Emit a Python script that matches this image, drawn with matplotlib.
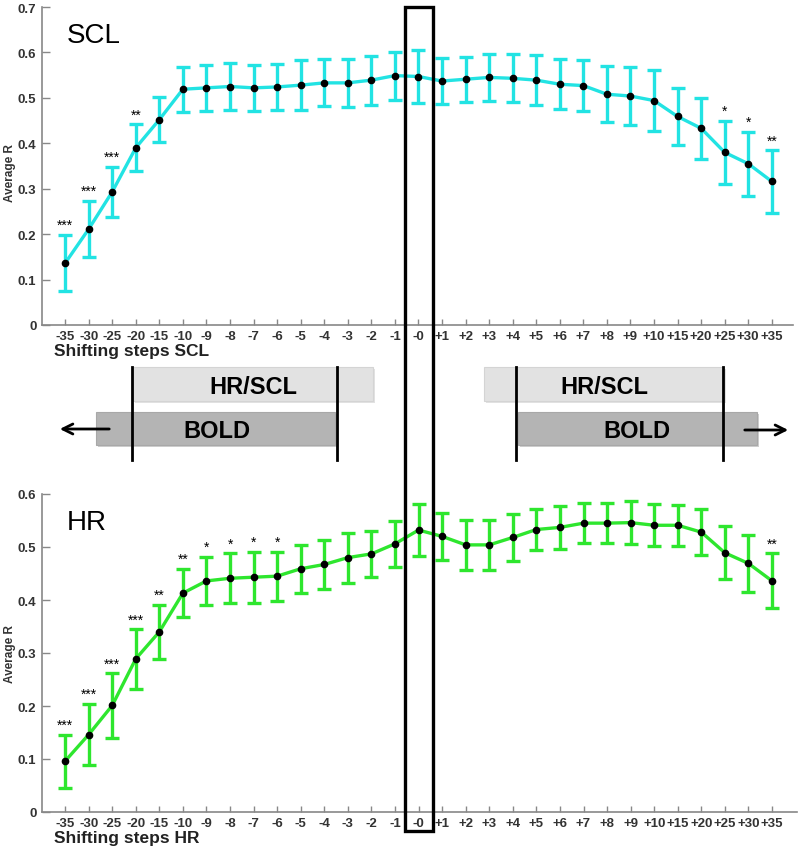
import numpy as np
import matplotlib.pyplot as plt
from matplotlib.patches import Rectangle

plt.rcParams['font.family'] = ['Liberation Sans', 'DejaVu Sans']

# shift steps shown on the x axis
steps = ['-35', '-30', '-25', '-20', '-15', '-10', '-9', '-8', '-7', '-6', '-5', '-4', '-3', '-2', '-1', '-0',
         '+1', '+2', '+3', '+4', '+5', '+6', '+7', '+8', '+9', '+10', '+15', '+20', '+25', '+30', '+35']

# SCL: average R and error bars
scl_mean = [0.136, 0.211, 0.293, 0.390, 0.452, 0.519, 0.522, 0.525, 0.522, 0.524, 0.528, 0.533, 0.533, 0.539, 0.549,
            0.547, 0.537, 0.541, 0.545, 0.543, 0.539, 0.530, 0.527, 0.508, 0.504, 0.494, 0.459, 0.433, 0.380, 0.355, 0.316]
scl_err = [0.062, 0.062, 0.055, 0.052, 0.050, 0.050, 0.050, 0.051, 0.051, 0.051, 0.055, 0.052, 0.053, 0.054, 0.053,
           0.058, 0.050, 0.050, 0.051, 0.053, 0.055, 0.055, 0.057, 0.062, 0.063, 0.067, 0.063, 0.067, 0.069, 0.070, 0.069]
scl_sig = ['***', '***', '***', '**', '', '', '', '', '', '', '', '', '', '', '',
           '', '', '', '', '', '', '', '', '', '', '', '', '', '*', '*', '**']

# HR: average R and error bars
hr_mean = [0.096, 0.146, 0.201, 0.289, 0.340, 0.413, 0.436, 0.441, 0.443, 0.445, 0.459, 0.467, 0.480, 0.487, 0.506,
           0.532, 0.520, 0.504, 0.504, 0.518, 0.533, 0.537, 0.545, 0.545, 0.546, 0.541, 0.541, 0.528, 0.489, 0.469, 0.436]
hr_err = [0.050, 0.058, 0.061, 0.056, 0.051, 0.046, 0.046, 0.047, 0.048, 0.046, 0.045, 0.046, 0.047, 0.044, 0.044,
          0.049, 0.045, 0.047, 0.047, 0.044, 0.039, 0.041, 0.038, 0.038, 0.041, 0.040, 0.039, 0.043, 0.050, 0.053, 0.052]
hr_sig = ['***', '***', '***', '***', '**', '**', '*', '*', '*', '*', '', '', '', '', '',
          '', '', '', '', '', '', '', '', '', '', '', '', '', '', '', '**']

W, H = 799, 853
fig = plt.figure(figsize=(W / 100, H / 100), dpi=100)


def panel(rect, mean, err, sig, color, ymax, name, xlabel, ylab_y, xmax):
    ax = fig.add_axes(rect)
    x = np.arange(len(steps))
    ax.errorbar(x, mean, yerr=err, color=color, lw=2.4, elinewidth=2.4,
                capsize=5, capthick=2.4, zorder=2)
    ax.plot(x, mean, 'o', color='black', ms=4.5, zorder=3)
    for xi, m, e, s in zip(x, mean, err, sig):
        if s:
            ax.annotate(s, (xi, m + e), xytext=(0, 2), textcoords='offset points',
                        ha='center', va='bottom', fontsize=10)
    ax.set_xlim(-0.98, xmax)
    ax.set_ylim(0, ymax)
    ax.set_xticks(x)
    ax.set_xticklabels(steps)
    ax.set_yticks(np.arange(0, ymax + 0.01, 0.1))
    ax.set_yticklabels(['0'] + ['%.1f' % v for v in np.arange(0.1, ymax + 0.01, 0.1)])
    for sp in ['top', 'right']:
        ax.spines[sp].set_visible(False)
    for sp in ['left', 'bottom']:
        ax.spines[sp].set_color('#888888')
        ax.spines[sp].set_linewidth(1.2)
    ax.tick_params(axis='y', direction='in', length=6, width=1, color='#888888',
                   labelsize=9.5, labelcolor='#333333', pad=4)
    ax.tick_params(axis='x', direction='in', length=4.5, width=1, color='#888888',
                   labelsize=9.5, labelcolor='#333333', pad=3.5)
    for lab in ax.get_xticklabels() + ax.get_yticklabels():
        lab.set_fontweight('bold')
    ax.set_ylabel('Average R', fontsize=8.5, fontweight='bold', color='#333333')
    ax.yaxis.set_label_coords(-0.034, ylab_y)
    ax.set_xlabel(xlabel, fontsize=12.5, fontweight='bold', color='#222222', loc='left')
    ax.xaxis.set_label_coords(12 / 751, -0.058)
    ax.xaxis.label.set_verticalalignment('top')
    ax.text(25 / 751, 0.912, name, fontsize=20, transform=ax.transAxes,
            va='center', ha='left')
    return ax


ax1 = panel([42 / W, 1 - 326 / H, 751 / W, 318 / H], scl_mean, scl_err, scl_sig,
            '#22e3e3', 0.7, 'SCL', 'Shifting steps SCL', 0.48, 30.9)
ax2 = panel([42 / W, 1 - 813 / H, 755 / W, 318 / H], hr_mean, hr_err, hr_sig,
            '#2ee62e', 0.6, 'HR', 'Shifting steps HR', 0.50, 31.06)

# overlay in pixel units for the schematic and the highlight box
ov = fig.add_axes([0, 0, 1, 1], zorder=10)
ov.set_xlim(0, W)
ov.set_ylim(H, 0)
ov.axis('off')

light, dark = '#e2e2e2', '#b4b4b4'
for (x0, x1) in [(133, 373), (484, 724)]:
    ov.add_patch(Rectangle((x0 + 1.5, 370), x1 - x0, 34, fc='#d0d0d0', ec='none', alpha=0.6))
    ov.add_patch(Rectangle((x0, 368), x1 - x0, 34, fc=light, ec='#d4d4d4', lw=0.8))
for (x0, x1) in [(96, 335), (518, 757)]:
    ov.add_patch(Rectangle((x0 + 1.5, 415), x1 - x0, 33, fc='#a0a0a0', ec='none', alpha=0.5))
    ov.add_patch(Rectangle((x0, 413), x1 - x0, 33, fc=dark, ec='#a8a8a8', lw=0.8))
for xv in [132, 337, 516, 723]:
    ov.plot([xv, xv], [368, 461], color='black', lw=2)
ov.text(253, 388, 'HR/SCL', fontsize=17, fontweight='bold', ha='center', va='center')
ov.text(604, 388, 'HR/SCL', fontsize=17, fontweight='bold', ha='center', va='center')
ov.text(217, 431, 'BOLD', fontsize=17, fontweight='bold', ha='center', va='center')
ov.text(637, 431, 'BOLD', fontsize=17, fontweight='bold', ha='center', va='center')
ov.annotate('', xy=(57, 430), xytext=(112, 430),
            arrowprops=dict(arrowstyle='->', lw=2, color='black', mutation_scale=18))
ov.annotate('', xy=(791, 431), xytext=(742, 431),
            arrowprops=dict(arrowstyle='->', lw=2, color='black', mutation_scale=18))

# highlighted zero-shift column
ov.add_patch(Rectangle((405, 8), 28, 824, fc='none', ec='black', lw=2.4))

fig.savefig('out.png', dpi=100)
